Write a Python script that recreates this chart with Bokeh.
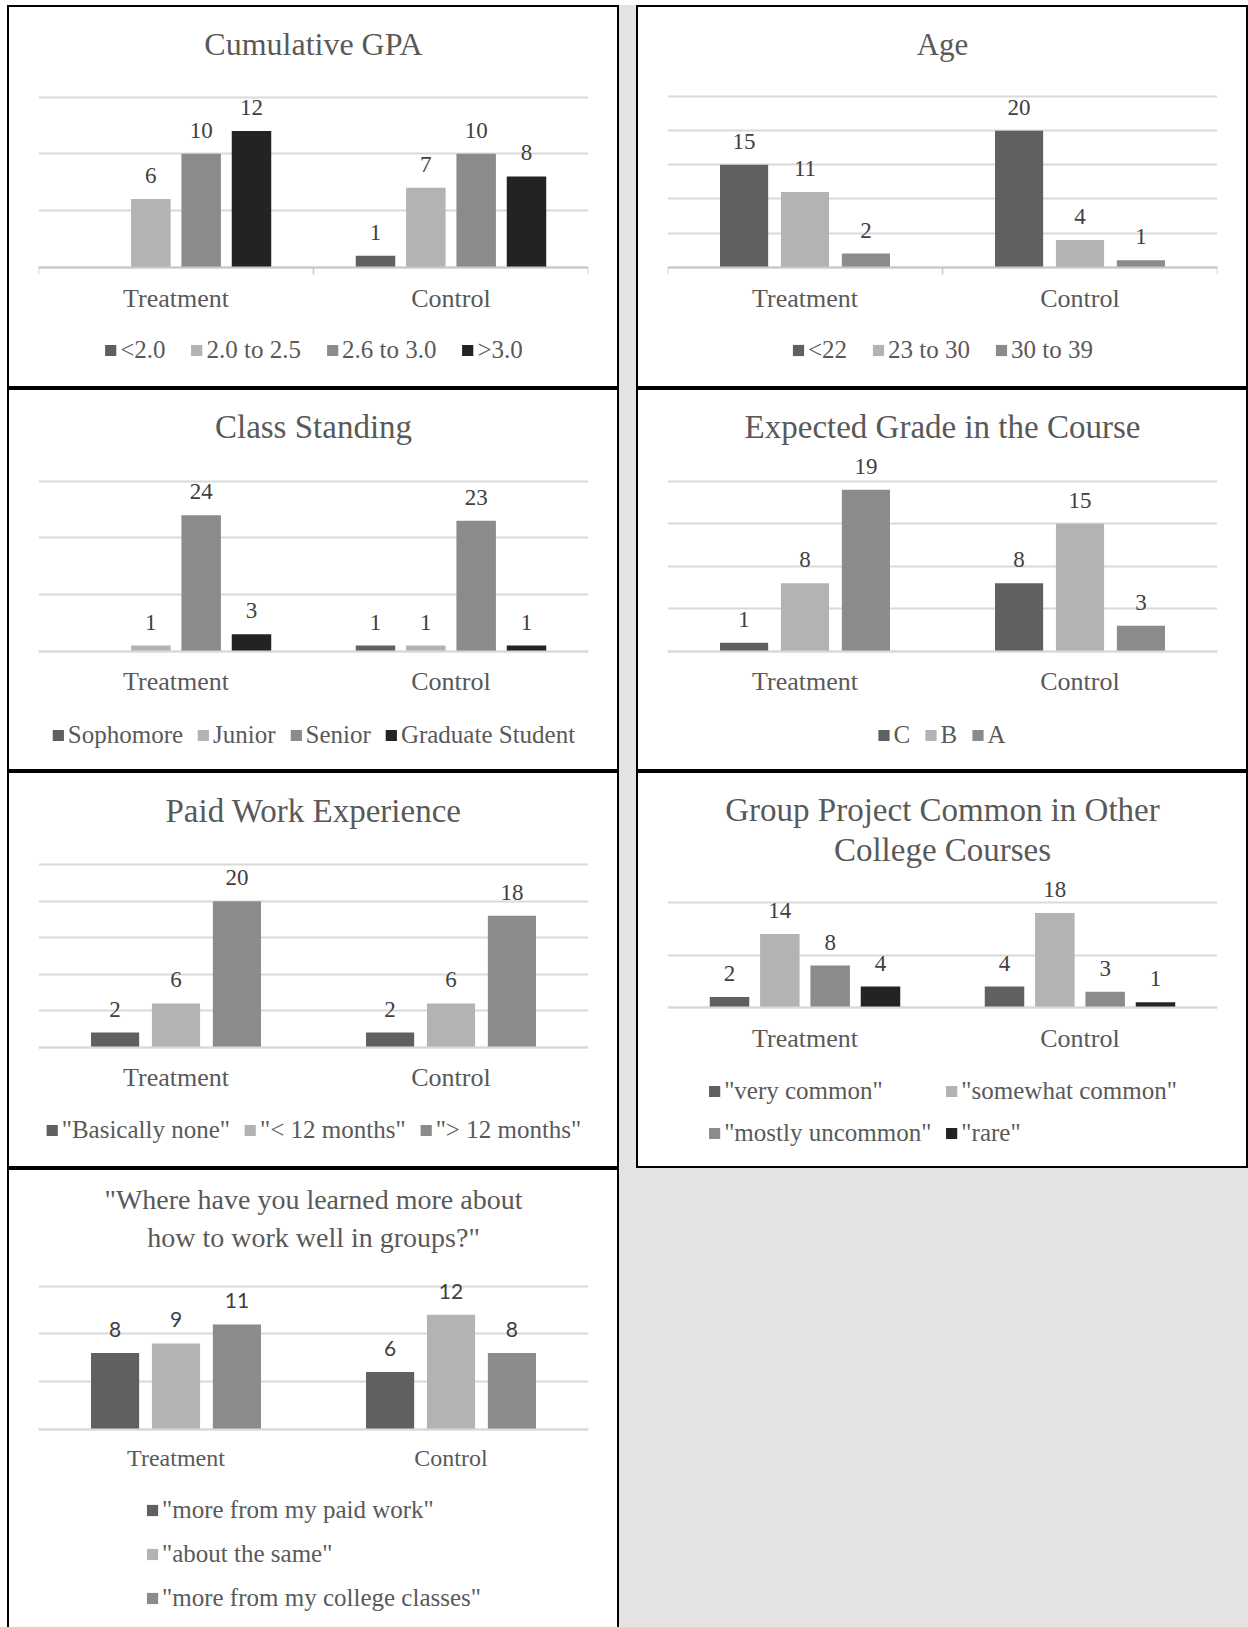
from bokeh.plotting import figure
from bokeh.models import (ColumnDataSource, Range1d, FixedTicker, LabelSet,
                          Legend, LegendItem, Spacer, Title)
from bokeh.layouts import row, column
from bokeh.transform import dodge
from bokeh.core.properties import value
from bokeh.embed import file_html
from bokeh.resources import INLINE

# ---------------- data ----------------
groups = ["Treatment", "Control"]

gpa_series = ["<2.0", "2.0 to 2.5", "2.6 to 3.0", ">3.0"]
gpa_treatment = [None, 6, 10, 12]
gpa_control = [1, 7, 10, 8]

age_series = ["<22", "23 to 30", "30 to 39"]
age_treatment = [15, 11, 2]
age_control = [20, 4, 1]

class_series = ["Sophomore", "Junior", "Senior", "Graduate Student"]
class_treatment = [None, 1, 24, 3]
class_control = [1, 1, 23, 1]

grade_series = ["C", "B", "A"]
grade_treatment = [1, 8, 19]
grade_control = [8, 15, 3]

work_series = ['"Basically none"', '"< 12 months"', '"> 12 months"']
work_treatment = [2, 6, 20]
work_control = [2, 6, 18]

project_series = ['"very common"', '"somewhat common"', '"mostly uncommon"', '"rare"']
project_treatment = [2, 14, 8, 4]
project_control = [4, 18, 3, 1]

learn_series = ['"more from my paid work"', '"about the same"',
                '"more from my college classes"']
learn_treatment = [8, 9, 11]
learn_control = [6, 12, 8]

# ---------------- style ----------------
DARK, LIGHT, MID, BLACK = "#606060", "#b3b3b3", "#8b8b8b", "#232323"
TEXT = "#595959"
LABEL = "#404040"
GRID = "#d9d9d9"
AXIS_TICK = "#c8c8c8"
PAGE_GRAY = "#e4e4e4"
SERIF = "Liberation Serif"
PANEL_W = 612
ITEM_H = 29


def make_panel(title_lines, series, t_vals, c_vals, colors, height, frame_top,
               grid_top, baseline, top_val, step, legend_center, title_size=33,
               axis_size=26, legend_size=25, label_size=23, label_font=SERIF,
               ticks=False, legend_cols=None, legend_vertical=False,
               title_standoff=3, legend_spacing=24, axis_standoff=16,
               shadow="inset 0 0 0 2px #000"):
    n = len(series)
    pitch = 0.183 if n == 4 else 0.2215
    bw = 0.1436 if n == 4 else 0.175
    ppu = (baseline - grid_top) / top_val
    y_end = top_val + (grid_top - frame_top) / ppu
    y_start = -(height - baseline) / ppu

    p = figure(width=PANEL_W, height=height, x_range=Range1d(0, len(groups)),
               y_range=Range1d(y_start, y_end), output_backend="svg",
               toolbar_location=None, title_location=None, min_border=0,
               min_border_left=31, min_border_right=31, min_border_top=frame_top,
               min_border_bottom=0, frame_align=False)
    p.border_fill_color = None
    p.background_fill_color = None
    p.outline_line_color = None
    p.styles = {"background-color": "white", "box-shadow": shadow}

    # title lines: the first added sits next to the frame, later ones stack above
    for k, line in enumerate(reversed(title_lines)):
        p.add_layout(Title(text=line, align="center", text_font=SERIF,
                           text_font_style="normal",
                           text_font_size=f"{title_size}px", text_color=TEXT,
                           standoff=title_standoff if k == 0 else 0), "above")

    centers = [i + 0.5 for i in range(len(groups))]
    bounds = [i for i in range(len(groups) + 1)]

    xa = p.xaxis[0]
    xa.fixed_location = 0
    xa.ticker = FixedTicker(ticks=centers, minor_ticks=bounds)
    xa.major_label_overrides = {c: g for c, g in zip(centers, groups)}
    xa.major_tick_out = 0
    xa.major_tick_in = 0
    xa.minor_tick_in = 0
    xa.minor_tick_out = 7 if ticks else 0
    xa.minor_tick_line_color = AXIS_TICK
    xa.minor_tick_line_width = 1.5
    xa.axis_line_color = AXIS_TICK if ticks else GRID
    xa.axis_line_width = 2
    xa.major_label_standoff = axis_standoff
    xa.major_label_text_font = SERIF
    xa.major_label_text_font_size = f"{axis_size}px"
    xa.major_label_text_color = TEXT

    ya = p.yaxis[0]
    ya.ticker = FixedTicker(ticks=list(range(0, top_val + 1, step)))
    ya.visible = False
    p.xgrid.visible = False
    p.ygrid.grid_line_color = GRID
    p.ygrid.grid_line_width = 2

    items = []
    for i, (name, color) in enumerate(zip(series, colors)):
        tops = [float("nan") if v is None else v for v in (t_vals[i], c_vals[i])]
        labels = ["" if v is None else str(v) for v in (t_vals[i], c_vals[i])]
        src = ColumnDataSource(dict(x=centers, top=tops, label=labels))
        off = (i - (n - 1) / 2) * pitch
        r = p.vbar(x=dodge("x", off), top="top", bottom=0, width=bw, source=src,
                   fill_color=color, line_color=None)
        p.add_layout(LabelSet(x=dodge("x", off), y="top", text="label", source=src,
                              y_offset=16, text_align="center",
                              text_baseline="alphabetic",
                              text_font=value(label_font),
                              text_font_size=f"{label_size}px", text_color=LABEL))
        items.append(LegendItem(label=name, renderers=[r]))

    margin = int(round(height - legend_center - ITEM_H / 2))
    leg = Legend(items=items, location="bottom_center",
                 orientation="vertical" if legend_vertical else "horizontal",
                 label_text_font=SERIF, label_text_font_size=f"{legend_size}px",
                 label_text_color=TEXT, label_height=ITEM_H, glyph_width=14,
                 glyph_height=14, label_standoff=3, spacing=legend_spacing,
                 padding=0, margin=margin, border_line_color=None,
                 background_fill_alpha=0)
    if legend_cols:
        leg.ncols = legend_cols
    p.add_layout(leg)
    return p


p1 = make_panel(["Cumulative GPA"], gpa_series, gpa_treatment, gpa_control,
                [DARK, LIGHT, MID, BLACK], 383, 58, 91.5, 261.6, 15, 5, 345,
                title_size=32, ticks=True, axis_standoff=10)
p2 = make_panel(["Age"], age_series, age_treatment, age_control,
                [DARK, LIGHT, MID], 383, 58, 91.0, 261.7, 25, 5, 344,
                title_size=31, ticks=True, title_standoff=4, axis_standoff=10)
p3 = make_panel(["Class Standing"], class_series, class_treatment, class_control,
                [DARK, LIGHT, MID, BLACK], 383, 58, 92.7, 262.7, 30, 10, 347,
                legend_spacing=13)
p4 = make_panel(["Expected Grade in the Course"], grade_series, grade_treatment,
                grade_control, [DARK, LIGHT, MID], 383, 58, 92.7, 262.7, 20, 5, 346,
                legend_spacing=10)
p5 = make_panel(["Paid Work Experience"], work_series, work_treatment, work_control,
                [DARK, LIGHT, MID], 397, 58, 93.3, 275.7, 25, 5, 358,
                title_standoff=1, legend_spacing=13)
p6 = make_panel(["Group Project Common in Other", "College Courses"], project_series,
                project_treatment, project_control, [DARK, LIGHT, MID, BLACK],
                397, 98, 131.0, 236.0, 20, 10, 361.8, legend_cols=2,
                legend_spacing=13, title_standoff=4)
p7 = make_panel(['"Where have you learned more about', 'how to work well in groups?"'],
                learn_series, learn_treatment, learn_control, [DARK, LIGHT, MID],
                459, 90, 117.7, 260.9, 15, 5, 429.3, title_size=28, axis_size=24,
                label_size=21, label_font="Lato", legend_vertical=True,
                legend_spacing=15, title_standoff=11,
                shadow="inset 2px 2px 0 #000, inset -2px 0 0 #000")


def gap(h):
    return Spacer(width=17, height=h, styles={"background-color": PAGE_GRAY})


root = column(
    Spacer(width=1248, height=5),
    row(Spacer(width=7, height=383), p1, gap(383), p2),
    row(Spacer(width=7, height=383), p3, gap(383), p4),
    row(Spacer(width=7, height=397), p5, gap(397), p6),
    row(Spacer(width=7, height=459), p7,
        Spacer(width=629, height=459, styles={"background-color": PAGE_GRAY})),
)

open("out.html", "w").write(file_html(root, INLINE))
